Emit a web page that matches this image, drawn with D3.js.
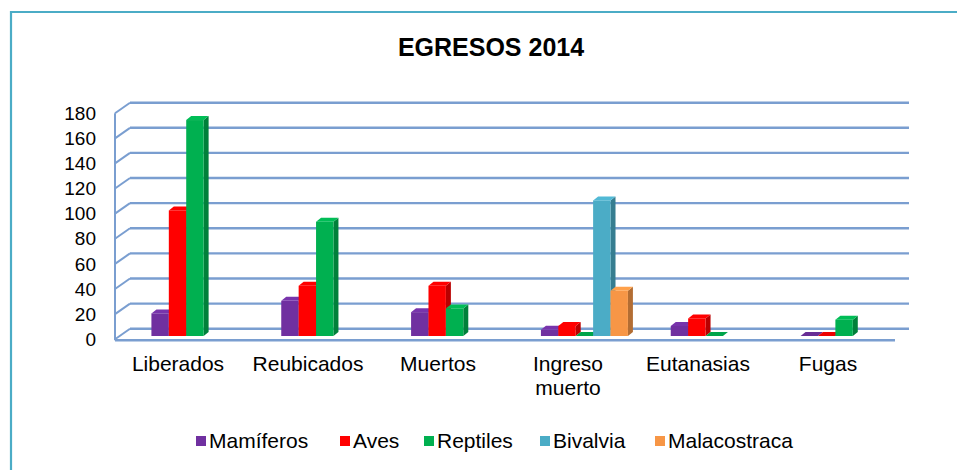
<!DOCTYPE html>
<html><head><meta charset="utf-8">
<script src="https://cdn.jsdelivr.net/npm/d3@7"></script>
<style>
html,body{margin:0;padding:0;background:#fff;}
svg{display:block;font-family:"Liberation Sans",Arial,sans-serif;}
</style></head>
<body>
<svg id="chart" width="957" height="470"></svg>
<script>
const categories = ["Liberados","Reubicados","Muertos","Ingreso muerto","Eutanasias","Fugas"];
const seriesNames = ["Mamíferos","Aves","Reptiles","Bivalvia","Malacostraca"];
const mamiferos = [18, 28, 19, 5, 8, 0];
const aves = [100, 40, 40, 8, 14, 0];
const reptiles = [172, 91, 22, 0, 0, 13];
const bivalvia = [null, null, null, 108, null, null];
const malacostraca = [null, null, null, 36, null, null];
const yTicks = [0,20,40,60,80,100,120,140,160,180];
const colors = ["#7030A0","#FF0000","#00B050","#4BACC6","#F79646"];
const title = "EGRESOS 2014";

const seriesValues = [mamiferos, aves, reptiles, bivalvia, malacostraca];

const svg = d3.select("#chart");

// outer border
svg.append("path").attr("d","M11,470 L11,12 L957,12")
  .attr("fill","none").attr("stroke","#4BACC6").attr("stroke-width",2.2);

// title
svg.append("text").attr("x",491).attr("y",56).attr("text-anchor","middle")
  .attr("font-size",25).attr("font-weight","bold").attr("fill","#000").text(title);

// geometry
const frontLeft = 115, frontRight = 895;
const depthX = 15, depthY = -10.5;
const yBack = d3.scaleLinear().domain([0,180]).range([328.7,102.7]);
const yBar = d3.scaleLinear().domain([0,180]).range([336,110]);
const xFront = d3.scaleBand().domain(categories).range([frontLeft, frontRight]);
const xBack = d3.scaleBand().domain(categories).range([frontLeft+depthX, frontRight+14]);
const bw = xBack.bandwidth();
const xSeries = d3.scaleBand().domain(seriesNames).range([bw/2-43.5, bw/2+43.5]);

const gridColor = "#7A9ED0";
const grid = svg.append("g");
yTicks.forEach(t => {
  const yb = yBack(t);
  grid.append("line").attr("x1",frontLeft+depthX).attr("x2",frontRight+14)
    .attr("y1",yb).attr("y2",yb).attr("stroke",gridColor).attr("stroke-width",2.4);
  grid.append("line").attr("x1",frontLeft).attr("x2",frontLeft+depthX)
    .attr("y1",yb-depthY).attr("y2",yb).attr("stroke",gridColor).attr("stroke-width",2);
});
grid.append("line").attr("x1",frontLeft).attr("x2",frontLeft)
  .attr("y1",yBack(180)-depthY).attr("y2",yBack(0)-depthY+1)
  .attr("stroke",gridColor).attr("stroke-width",2);
grid.append("line").attr("x1",frontLeft).attr("x2",frontRight)
  .attr("y1",yBack(0)-depthY+1).attr("y2",yBack(0)-depthY+1)
  .attr("stroke",gridColor).attr("stroke-width",2.4);

// y labels
const yAxisG = svg.append("g");
yTicks.forEach(t => {
  yAxisG.append("text").attr("x",96).attr("y",yBack(t)+10.5).attr("dy","0.35em")
    .attr("text-anchor","end").attr("font-size",19).attr("fill","#000").text(t);
});

// bars
const bdx = 5, bdy = -4;
const bars = svg.append("g");
categories.forEach((c, ci) => {
  seriesNames.forEach((s, si) => {
    const v = seriesValues[si][ci];
    if (v === null || v === undefined) return;
    const x = xBack(c) + xSeries(s);
    const w = xSeries.bandwidth();
    const y0 = yBar(0), y1 = yBar(v);
    const col = d3.color(colors[si]);
    bars.append("path")
      .attr("d",`M${x+w},${y1} L${x+w+bdx},${y1+bdy} L${x+w+bdx},${y0+bdy} L${x+w},${y0} Z`)
      .attr("fill", col.darker(0.9));
    if (v > 0) {
      bars.append("rect").attr("x",x).attr("y",y1).attr("width",w).attr("height",y0-y1)
        .attr("fill", colors[si]);
    }
    bars.append("path")
      .attr("d",`M${x},${y1} L${x+bdx},${y1+bdy} L${x+w+bdx},${y1+bdy} L${x+w},${y1} Z`)
      .attr("fill", v > 0 ? col.brighter(0.2) : col.darker(0.2));
  });
});

// category labels
const xl = svg.append("g");
categories.forEach(c => {
  const words = c.split(" ");
  const cx = xFront(c) + xFront.bandwidth()/2 - 2;
  const t = xl.append("text").attr("x",cx).attr("y",371).attr("text-anchor","middle")
    .attr("font-size",21).attr("fill","#000");
  words.forEach((wd, i) => {
    t.append("tspan").attr("x",cx).attr("dy", i===0 ? 0 : 24).text(wd);
  });
});

// legend
const legendX = [196, 340, 424, 540, 655];
const lg = svg.append("g");
seriesNames.forEach((s, i) => {
  lg.append("rect").attr("x",legendX[i]).attr("y",436).attr("width",10).attr("height",10)
    .attr("fill",colors[i]);
  lg.append("text").attr("x",legendX[i]+13).attr("y",441).attr("dy","0.35em")
    .attr("font-size",21).attr("fill","#000").text(s);
});
</script>
</body></html>
